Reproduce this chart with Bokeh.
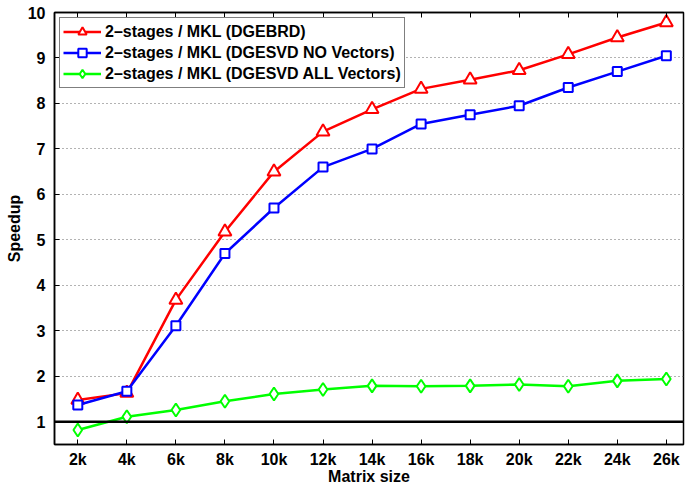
from bokeh.plotting import figure
from bokeh.models import FixedTicker, Span, Legend, LegendItem, LinearAxis, Range1d
from bokeh.embed import file_html
from bokeh.resources import INLINE

sizes = [2, 4, 6, 8, 10, 12, 14, 16, 18, 20, 22, 24, 26]
tick_labels = ["2k", "4k", "6k", "8k", "10k", "12k", "14k", "16k", "18k", "20k", "22k", "24k", "26k"]
dgebrd = [1.48, 1.63, 3.68, 5.18, 6.50, 7.38, 7.87, 8.32, 8.52, 8.73, 9.08, 9.45, 9.78]
dgesvd_no = [1.37, 1.67, 3.11, 4.70, 5.70, 6.60, 7.00, 7.55, 7.75, 7.95, 8.35, 8.70, 9.05]
dgesvd_all = [0.82, 1.11, 1.26, 1.45, 1.61, 1.71, 1.79, 1.78, 1.79, 1.82, 1.78, 1.90, 1.94]
y_ticks = [1, 2, 3, 4, 5, 6, 7, 8, 9, 10]

FONT = "Liberation Sans"

p = figure(width=685, height=487, output_backend="svg", toolbar_location=None,
           x_range=Range1d(1.05, 26.7), y_range=Range1d(0.5, 10),
           min_border_left=54, min_border_right=2, min_border_top=12, min_border_bottom=42)
p.outline_line_color = "black"
p.outline_line_width = 1.5
p.background_fill_color = "white"
p.border_fill_color = "white"

p.xaxis.ticker = FixedTicker(ticks=sizes)
p.xaxis.major_label_overrides = {s: l for s, l in zip(sizes, tick_labels)}
p.yaxis.ticker = FixedTicker(ticks=y_ticks)
for ax in (p.xaxis[0], p.yaxis[0]):
    ax.major_tick_in = 5
    ax.major_tick_out = 0
    ax.minor_tick_line_color = None
    ax.axis_line_width = 1.5
    ax.major_tick_line_width = 1
    ax.major_label_text_font = FONT
    ax.major_label_text_font_style = "bold"
    ax.major_label_text_font_size = "16px"
    ax.major_label_text_color = "black"
    ax.axis_label_text_font = FONT
    ax.axis_label_text_font_style = "bold"
    ax.axis_label_text_font_size = "16px"
    ax.axis_label_text_color = "black"
p.xaxis.axis_label = "Matrix size"
p.yaxis.axis_label = "Speedup"
p.xaxis.major_label_standoff = 6
p.yaxis.major_label_standoff = 9
p.xaxis.axis_label_standoff = -3
p.yaxis.axis_label_standoff = 2

top = LinearAxis(ticker=FixedTicker(ticks=sizes),
                 major_label_overrides={s: "" for s in sizes},
                 major_tick_in=5, major_tick_out=0, minor_tick_line_color=None,
                 axis_line_width=1.5)
p.add_layout(top, "above")

p.xgrid.grid_line_color = None
p.ygrid.ticker = FixedTicker(ticks=y_ticks)
p.ygrid.grid_line_color = "#666666"
p.ygrid.grid_line_dash = "1 3"
p.ygrid.grid_line_width = 1

p.add_layout(Span(location=1, dimension="width", line_color="black", line_width=2.5))

r1 = p.line(sizes, dgebrd, line_color="red", line_width=2.5)
m1 = p.scatter(sizes, dgebrd, marker="triangle", size=13, line_color="red", line_width=2, fill_color="white")
r2 = p.line(sizes, dgesvd_no, line_color="blue", line_width=2.5)
m2 = p.scatter(sizes, dgesvd_no, marker="square", size=9, line_color="blue", line_width=2, fill_color="white")
r3 = p.line(sizes, dgesvd_all, line_color="#00ff00", line_width=2.5)
m3 = p.scatter(sizes, dgesvd_all, marker="diamond", size=13, line_color="#00ff00", line_width=2, fill_color="white")

legend = Legend(items=[
    LegendItem(label="2\u2013stages / MKL (DGEBRD)", renderers=[r1, m1]),
    LegendItem(label="2\u2013stages / MKL (DGESVD NO Vectors)", renderers=[r2, m2]),
    LegendItem(label="2\u2013stages / MKL (DGESVD ALL Vectors)", renderers=[r3, m3]),
], location="top_left")
legend.label_text_font = FONT
legend.label_text_font_style = "bold"
legend.label_text_font_size = "16px"
legend.label_text_color = "black"
legend.border_line_color = "black"
legend.border_line_width = 1.5
legend.glyph_width = 38
legend.label_standoff = 4
legend.spacing = 0
legend.label_height = 21
legend.glyph_height = 21
legend.padding = 3
legend.margin = 5
legend.background_fill_alpha = 1
p.add_layout(legend)

open("out.html", "w").write(file_html(p, INLINE))
